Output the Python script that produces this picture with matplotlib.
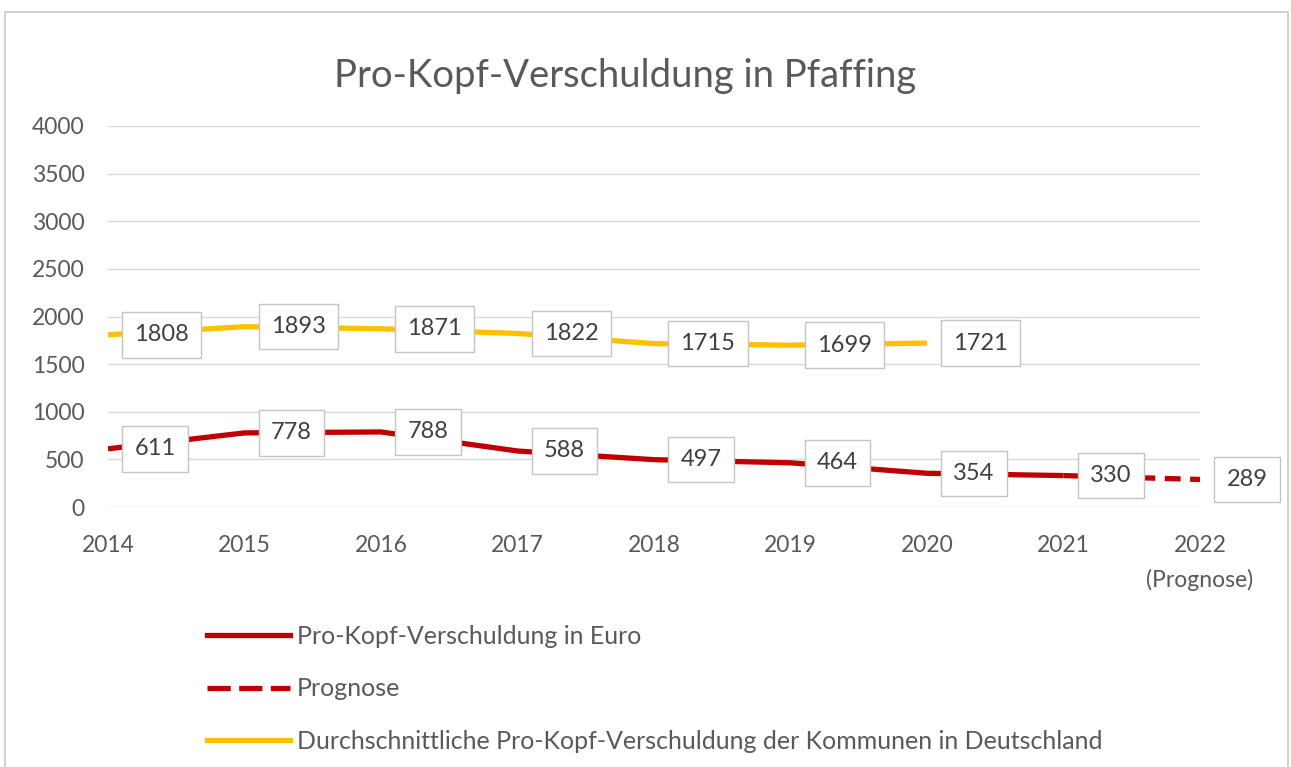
import matplotlib
matplotlib.use("Agg")
import matplotlib.pyplot as plt
from matplotlib.patches import Rectangle
from matplotlib.lines import Line2D

plt.rcParams['font.family'] = ['Lato', 'DejaVu Sans']

years = [2014, 2015, 2016, 2017, 2018, 2019, 2020, 2021, 2022]
year_labels = ["2014", "2015", "2016", "2017", "2018", "2019", "2020", "2021", "2022\n(Prognose)"]
pfaffing = [611, 778, 788, 588, 497, 464, 354, 330, 289]
germany_years = [2014, 2015, 2016, 2017, 2018, 2019, 2020]
germany = [1808, 1893, 1871, 1822, 1715, 1699, 1721]
yticks = [0, 500, 1000, 1500, 2000, 2500, 3000, 3500, 4000]

RED = "#C00000"
YELLOW = "#FFC000"
TXT = "#595959"

fig = plt.figure(figsize=(12.91, 7.67), dpi=100)
fig.patch.set_facecolor("white")
fig.add_artist(Rectangle((5 / 1291, -0.05), 1283 / 1291, 1.05 - 12 / 767,
                         transform=fig.transFigure, fill=False,
                         edgecolor="#C8C8C8", linewidth=1.2))

ax = fig.add_axes([108 / 1291, 1 - 507 / 767, 1092 / 1291, 381 / 767])
ax.set_xlim(2014, 2022)
ax.set_ylim(0, 4000)
ax.set_yticks(yticks)
ax.set_yticklabels([str(v) for v in yticks])
ax.set_xticks(years)
ax.set_xticklabels(year_labels)
for s in ax.spines.values():
    s.set_visible(False)
ax.grid(axis="y", color="#D9D9D9", linewidth=1.0)
ax.set_axisbelow(True)
ax.tick_params(axis="both", length=0, labelsize=16.5, colors=TXT)
ax.tick_params(axis="y", pad=17)
ax.tick_params(axis="x", pad=20)
for lab in ax.get_xticklabels():
    lab.set_linespacing(1.7)

lw = 3.8
# solid part (2014-2021)
ax.plot(years[:-1], pfaffing[:-1], color=RED, linewidth=lw,
        solid_joinstyle="round", solid_capstyle="butt", zorder=3)
# forecast part (2021-2022)
ax.plot(years[-2:], pfaffing[-2:], color=RED, linewidth=lw,
        linestyle=(0, (3, 1.8)), dash_capstyle="butt", zorder=3)
ax.plot(germany_years, germany, color=YELLOW, linewidth=lw,
        solid_joinstyle="round", solid_capstyle="butt", zorder=3)

bbox = dict(boxstyle="square,pad=0.52", facecolor="white",
            edgecolor="#C4C4C4", linewidth=1.0)
for x, v in zip(years, pfaffing):
    ax.annotate(str(v), (x, v), xytext=(19, 0), textcoords="offset points",
                ha="left", va="center", fontsize=17, color="#404040",
                bbox=bbox, zorder=5, annotation_clip=False)
for x, v in zip(germany_years, germany):
    ax.annotate(str(v), (x, v), xytext=(19, 0), textcoords="offset points",
                ha="left", va="center", fontsize=17, color="#404040",
                bbox=bbox, zorder=5, annotation_clip=False)

fig.text(625 / 1291, 1 - 76 / 767, "Pro-Kopf-Verschuldung in Pfaffing",
         ha="center", va="center", fontsize=27.5, color=TXT)

handles = [
    Line2D([], [], color=RED, linewidth=lw),
    Line2D([], [], color=RED, linewidth=lw, linestyle=(0, (4.4, 1.6))),
    Line2D([], [], color=YELLOW, linewidth=lw),
]
labels = [
    "Pro-Kopf-Verschuldung in Euro",
    "Prognose",
    "Durchschnittliche Pro-Kopf-Verschuldung der Kommunen in Deutschland",
]
leg = fig.legend(handles, labels, loc="upper left",
                 bbox_to_anchor=(207 / 1291, 1 - 625 / 767),
                 frameon=False, fontsize=18, handlelength=3.3,
                 handletextpad=0.3, labelspacing=1.18, borderpad=0,
                 borderaxespad=0)
for t in leg.get_texts():
    t.set_color(TXT)

fig.savefig("out.png", dpi=100, facecolor="white")
